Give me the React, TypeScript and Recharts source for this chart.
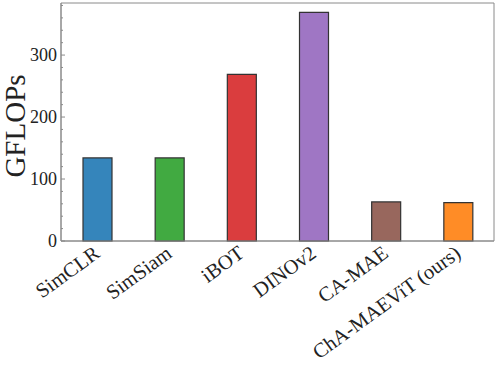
import { BarChart, Bar, Cell, XAxis, YAxis, CartesianGrid } from 'recharts';

const methods = ['SimCLR', 'SimSiam', 'iBOT', 'DINOv2', 'CA-MAE', 'ChA-MAEViT (ours)'];
const gflops = [134, 134, 269, 369, 63, 62];
const COLORS = ['#3585bb', '#41aa41', '#da3d3e', '#9f76c4', '#98675d', '#ff8c26'];
const yTicks = [0, 20, 40, 60, 80, 100, 120, 140, 160, 180, 200, 220, 240, 260, 280, 300, 320, 340, 360, 380];
const yLabels = [0, 100, 200, 300];

const FONT = '"Liberation Serif", "DejaVu Serif", serif';
const FRAME = '#8a8a8a';

const data = methods.map((name, i) => ({ name, value: gflops[i] }));

// matplotlib-like inward ticks, labels only on the majors
function YTick(props: any) {
  const { y, payload } = props;
  const major = yLabels.includes(payload.value);
  return (
    <g>
      <line x1={61} x2={61 + (major ? 4 : 2)} y1={y} y2={y} stroke={FRAME} strokeWidth={1} />
      {major && (
        <text x={57} y={y} dy="0.35em" textAnchor="end" fontFamily={FONT} fontSize={18} fill="#222">
          {payload.value}
        </text>
      )}
    </g>
  );
}

// rotated labels, right end anchored just past the bar centre
function XTick(props: any) {
  const { x, payload } = props;
  const tx = x + 4;
  const ty = 256;
  return (
    <text
      x={tx}
      y={ty}
      textAnchor="end"
      transform={`rotate(-36, ${tx}, ${ty})`}
      fontFamily={FONT}
      fontSize={20.5}
      fill="#222"
    >
      {payload.value}
    </text>
  );
}

export default function App() {
  return (
    <div style={{ position: 'fixed', left: 0, top: 0, width: 498, height: 370, background: '#fff' }}>
      <BarChart width={498} height={370} data={data} margin={{ top: 3, right: 4, left: 0, bottom: 0 }} barCategoryGap={0}>
        {/* box around the plot area */}
        <CartesianGrid
          stroke={FRAME}
          horizontalCoordinatesGenerator={({ offset }: any) => [offset.top, offset.top + offset.height]}
          verticalCoordinatesGenerator={({ offset }: any) => [offset.left, offset.left + offset.width]}
        />
        <XAxis
          dataKey="name"
          height={129}
          interval={0}
          tickSize={0}
          tickMargin={0}
          tickLine={false}
          axisLine={{ stroke: FRAME }}
          tick={<XTick />}
        />
        <YAxis
          domain={[0, 384]}
          ticks={yTicks}
          width={61}
          interval={0}
          tickSize={0}
          tickMargin={0}
          tickLine={false}
          axisLine={{ stroke: FRAME }}
          tick={<YTick />}
          label={{
            content: () => (
              <text x={25} y={126} textAnchor="middle" transform="rotate(-90, 25, 126)" fontFamily={FONT} fontSize={29} fill="#222">
                GFLOPs
              </text>
            ),
          }}
        />
        <Bar dataKey="value" barSize={29} stroke="#333" strokeWidth={1.2} isAnimationActive={false}>
          {data.map((_d, i) => (
            <Cell key={`cell-${i}`} fill={COLORS[i]} />
          ))}
        </Bar>
      </BarChart>
    </div>
  );
}
